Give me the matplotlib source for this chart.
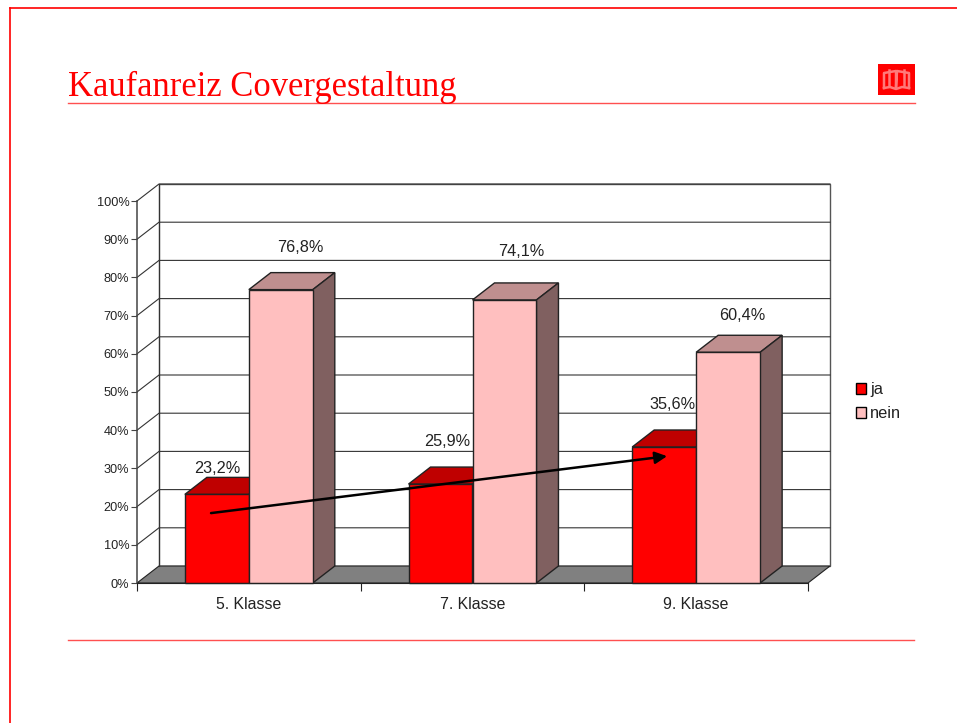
import matplotlib
matplotlib.use('Agg')
import matplotlib.pyplot as plt
from matplotlib.patches import Patch, Polygon, Rectangle

plt.rcParams['font.family'] = ['Liberation Sans', 'DejaVu Sans']

# data
categories = ['5. Klasse', '7. Klasse', '9. Klasse']
ja_values = [23.2, 25.9, 35.6]
nein_values = [76.8, 74.1, 60.4]
ja_labels = ['23,2%', '25,9%', '35,6%']
nein_labels = ['76,8%', '74,1%', '60,4%']
y_ticks = list(range(0, 101, 10))

# label offsets in pixels from the bar top (placed by hand in the original)
ja_offsets = [(0, 26), (7, 43), (8, 43)]
nein_offsets = [(19, 42), (17, 48), (14, 37)]

RED = '#FF0000'
TEXT = '#222222'
GRID = '#333333'
BAR_WIDTH = 0.286

fig = plt.figure(figsize=(9.57, 7.23), dpi=100)

# page decoration, in pixels
page = fig.add_axes([0, 0, 1, 1], zorder=0)
page.set_xlim(0, 957)
page.set_ylim(723, 0)
page.axis('off')
page.plot([10, 957], [8, 8], color=RED, lw=1.2)
page.plot([10, 10], [8, 723], color=RED, lw=1.2)
page.plot([68, 915], [103, 103], color='#FF5050', lw=1)
page.plot([68, 914], [640, 640], color='#FF5050', lw=1)
page.text(68, 95.5, 'Kaufanreiz Covergestaltung', color=RED, fontsize=24.85,
          family=['Liberation Serif'], va='baseline', ha='left')
page.add_patch(Rectangle((878, 64), 37, 31, color=RED, lw=0))
book = '#FF7A7A'
page.plot([884, 884, 896, 896, 897, 909, 909], [88, 73, 71, 88, 71, 73, 88], color=book, lw=1.8)
page.plot([884, 890, 896, 902, 909], [88, 87, 89, 87, 88], color=book, lw=1.8)
page.plot([889, 889], [70, 85], color=book, lw=1.8)
page.plot([904, 904], [70, 85], color=book, lw=1.8)

# chart, axes is the front plane of the 3d box
ax = fig.add_axes([137 / 957, 1 - 583 / 723, 671 / 957, 382 / 723], zorder=1)
ax.set_xlim(0, 3)
ax.set_ylim(0, 100)
ax.patch.set_alpha(0)

# depth of the 3d box in data units
dx = 22 / (671 / 3)
dy = 17 / 3.82

ax.add_patch(Polygon([(0, 0), (dx, dy), (3 + dx, dy), (3, 0)], facecolor='#808080',
                     edgecolor='#222222', lw=0.8, clip_on=False, zorder=1))
ax.add_patch(Rectangle((dx, dy), 3, 100, facecolor='white', edgecolor='#555555',
                       lw=1, clip_on=False, zorder=0.5))
for t in y_ticks[1:]:
    ax.plot([0, dx, 3 + dx], [t, t + dy, t + dy], color=GRID, lw=0.8,
            clip_on=False, zorder=1)
ax.plot([dx, dx], [dy, 100 + dy], color=GRID, lw=0.8, clip_on=False, zorder=1)


def draw_bar(left, value, front, top, side, z):
    right = left + BAR_WIDTH
    ax.add_patch(Polygon([(left, value), (left + dx, value + dy), (right + dx, value + dy), (right, value)],
                         facecolor=top, edgecolor='#222222', lw=1, clip_on=False, zorder=z))
    ax.add_patch(Polygon([(right, 0), (right + dx, dy), (right + dx, value + dy), (right, value)],
                         facecolor=side, edgecolor='#222222', lw=1, clip_on=False, zorder=z))
    ax.bar(left, value, BAR_WIDTH, align='edge', color=front, edgecolor='#222222', lw=1,
           clip_on=False, zorder=z + 0.1)


for i in range(len(categories)):
    center = i + 0.5
    draw_bar(center - BAR_WIDTH, ja_values[i], RED, '#BF0000', '#800000', 2)
    draw_bar(center, nein_values[i], '#FFBFBF', '#BF8F8F', '#806060', 3)
    ax.annotate(ja_labels[i], (center - BAR_WIDTH / 2, ja_values[i]), xytext=ja_offsets[i],
                textcoords='offset pixels', ha='center', va='center', fontsize=11.7,
                color=TEXT, zorder=6)
    ax.annotate(nein_labels[i], (center + BAR_WIDTH / 2, nein_values[i]), xytext=nein_offsets[i],
                textcoords='offset pixels', ha='center', va='center', fontsize=11.7,
                color=TEXT, zorder=6)

# trend arrow
ax.annotate('', xy=(2.37, 33.2), xytext=(0.331, 18.3),
            arrowprops=dict(arrowstyle='-|>', color='black', lw=1.8, mutation_scale=18,
                            shrinkA=0, shrinkB=0), zorder=7)

# axes
for name in ['top', 'right']:
    ax.spines[name].set_visible(False)
ax.spines['left'].set_color('#444444')
ax.spines['left'].set_linewidth(1.1)
ax.spines['bottom'].set_color('#222222')
ax.spines['left'].set_zorder(5)
ax.spines['bottom'].set_zorder(5)
ax.set_yticks(y_ticks)
ax.set_yticklabels([f'{t}%' for t in y_ticks], fontsize=9.2, color=TEXT)
ax.tick_params(axis='y', length=4, width=0.8, pad=1.5, color='#444444')
ax.set_xticks(range(4))
ax.set_xticklabels([])
ax.tick_params(axis='x', length=6, width=0.8, color='#222222')
ax.set_xticks([i + 0.5 for i in range(3)], minor=True)
ax.set_xticklabels(categories, minor=True, fontsize=11.4, color=TEXT)
ax.tick_params(axis='x', which='minor', length=0, pad=10)

handles = [Patch(facecolor=RED, edgecolor='black', lw=1),
           Patch(facecolor='#FFBFBF', edgecolor='black', lw=1)]
page.legend(handles, ['ja', 'nein'], loc='upper left', bbox_to_anchor=(856, 382),
            bbox_transform=page.transData, frameon=False, fontsize=11.8, labelcolor=TEXT,
            handlelength=0.62, handleheight=0.62, handletextpad=0.25, labelspacing=0.55,
            borderpad=0, borderaxespad=0)

fig.savefig('out.png', dpi=100)
